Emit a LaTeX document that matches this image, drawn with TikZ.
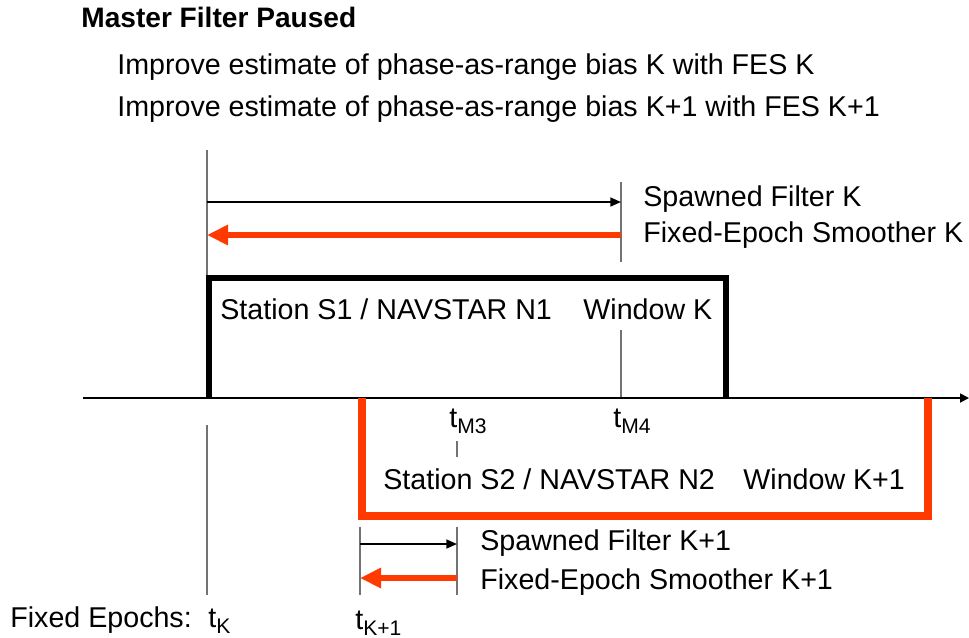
\documentclass[tikz,border=0pt]{standalone}
\usepackage{fontspec}
\setmainfont{Liberation Sans}
\usetikzlibrary{arrows.meta}

\definecolor{fesred}{RGB}{255,58,0}
\newcommand{\epochsub}[1]{\raisebox{-0.4ex}{\fontsize{12}{14}\selectfont #1}}

\begin{document}
\begin{tikzpicture}[x=0.02cm,y=-0.02cm,
  txt/.style={anchor=base west,inner sep=0pt,font=\fontsize{16.3}{19}\selectfont},
  head/.style={anchor=base west,inner sep=0pt,font=\fontsize{16}{19}\selectfont\bfseries},
  epochline/.style={draw=black!55,line width=0.6pt},
  spawn/.style={draw=black,line width=1pt,-{Triangle[length=6pt,width=5pt]}},
  smooth/.style={draw=fesred,line width=3.9pt,-{Triangle[length=12pt,width=11pt]}},
  windowk/.style={draw=black,line width=3.8pt},
  windowkk/.style={draw=fesred,line width=4.1pt}]

	\useasboundingbox (0,0) rectangle (969,637);

	\node[head] (title) at (81,27)  {Master Filter Paused};
	\node[txt] (imp1) at (117,74)   {Improve estimate of phase-as-range bias K with FES K};
	\node[txt] (imp2) at (117,116)  {Improve estimate of phase-as-range bias K+1 with FES K+1};

	\coordinate (kt) at (207,150);
	\coordinate (kb) at (207,398);
	\coordinate (kl1) at (207,425);
	\coordinate (kl2) at (207,595);
	\coordinate (m4t) at (621,182);
	\coordinate (m4b) at (621,262);
	\coordinate (sk1) at (207,202);
	\coordinate (sk2) at (621,202);
	\coordinate (fk1) at (621,235);
	\coordinate (fk2) at (207,235);

	\path (kt) edge[epochline] (kb);
	\path (kl1) edge[epochline] (kl2);
	\path (m4t) edge[epochline] (m4b);
	\path (sk1) edge[spawn] (sk2);
	\path (fk1) edge[smooth] (fk2);

	\node[txt] (spk) at (643,206) {Spawned Filter K};
	\node[txt] (fesk) at (643,242) {Fixed-Epoch Smoother K};

	% window K
	\coordinate (wk1) at (209,398);
	\coordinate (wk2) at (209,278);
	\coordinate (wk3) at (726,278);
	\coordinate (wk4) at (726,398);
	\draw[windowk] (wk1) -- (wk2) -- (wk3) -- (wk4);
	\node[txt] (stk) at (220,319) {Station S1 / NAVSTAR N1};
	\node[txt] (wink) at (583,319) {Window K};

	\coordinate (m4a) at (621,330);
	\coordinate (m4c) at (621,398);
	\path (m4a) edge[epochline] (m4c);

	% time axis
	\coordinate (ax1) at (83,398);
	\coordinate (ax2) at (969,398);
	\path (ax1) edge[draw=black,line width=1pt,-{Triangle[length=5pt,width=5pt]}] (ax2);

	\node[txt] (tm3) at (449,427) {t\epochsub{M3}};
	\node[txt] (tm4) at (613,427) {t\epochsub{M4}};
	\coordinate (m3a) at (457,441);
	\coordinate (m3b) at (457,457);
	\path (m3a) edge[epochline] (m3b);

	% window K+1
	\coordinate (wn1) at (362,398);
	\coordinate (wn2) at (362,516);
	\coordinate (wn3) at (928,516);
	\coordinate (wn4) at (928,398);
	\draw[windowkk] (wn1) -- (wn2) -- (wn3) -- (wn4);
	\node[txt] (stn) at (383,489) {Station S2 / NAVSTAR N2};
	\node[txt] (winn) at (743,489) {Window K+1};

	\coordinate (nl1) at (360,527);
	\coordinate (nl2) at (360,595);
	\coordinate (ml1) at (457,527);
	\coordinate (ml2) at (457,595);
	\coordinate (sn1) at (360,544);
	\coordinate (sn2) at (457,544);
	\coordinate (fn1) at (457,578);
	\coordinate (fn2) at (360,578);
	\path (nl1) edge[epochline] (nl2);
	\path (ml1) edge[epochline] (ml2);
	\path (sn1) edge[spawn] (sn2);
	\path (fn1) edge[smooth] (fn2);

	\node[txt] (spn) at (480,550) {Spawned Filter K+1};
	\node[txt] (fesn) at (480,589) {Fixed-Epoch Smoother K+1};

	\node[txt] (fe) at (10,627) {Fixed Epochs:};
	\node[txt] (tk) at (208,627) {t\epochsub{K}};
	\node[txt] (tkk) at (355,629) {t\epochsub{K+1}};
\end{tikzpicture}
\end{document}
